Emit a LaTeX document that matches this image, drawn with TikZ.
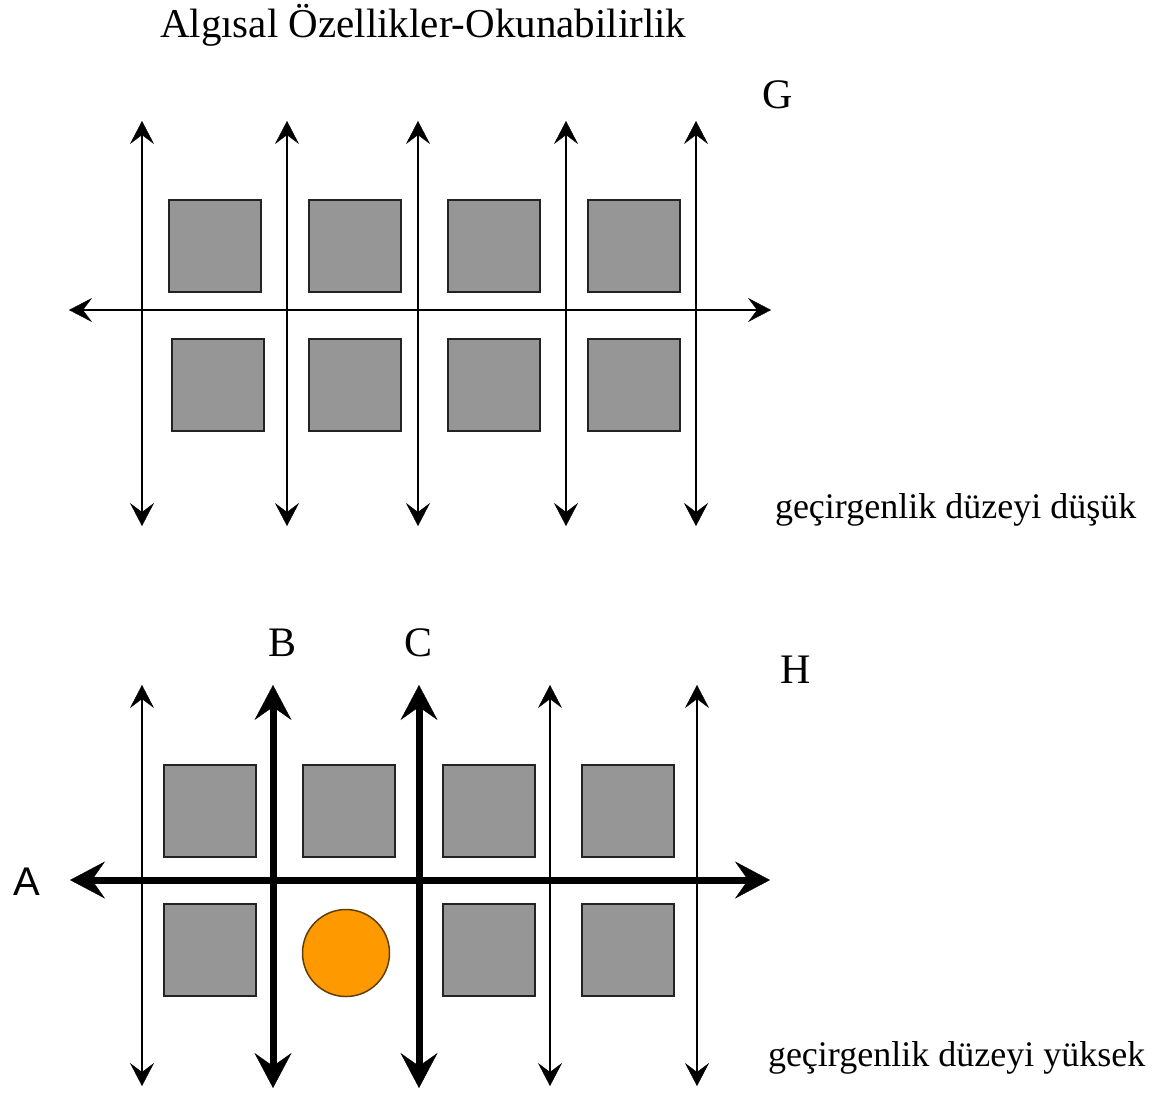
\documentclass[tikz,border=0pt]{standalone}
\usepackage{fontspec}
\setmainfont{Liberation Serif}
\newfontfamily\labelsans{Liberation Sans}
\usetikzlibrary{arrows.meta}

\definecolor{blockgray}{RGB}{150,150,150}
\definecolor{blockedge}{RGB}{35,35,35}
\definecolor{spot}{RGB}{255,153,0}
\definecolor{spotedge}{RGB}{95,62,10}

\tikzset{
  thintip/.tip={Stealth[length=23pt,width=24pt,inset=9pt,line width=0.4pt]},
  thicktip/.tip={Stealth[length=35pt,width=37pt,inset=13pt,line width=0.4pt]},
  thinroute/.style={line width=2pt, thintip-thintip},
  thinroutelow/.style={line width=1.6pt, thintip-thintip},
  thickroute/.style={line width=7pt, thicktip-thicktip},
  block/.style={draw=blockedge, fill=blockgray, line width=2pt,
    minimum width=92pt, minimum height=92pt, inner sep=0pt, outer sep=0pt},
  spotnode/.style={circle, draw=spotedge, fill=spot, line width=1.5pt,
    minimum size=87pt, inner sep=0pt},
  caption/.style={inner sep=0pt, outer sep=0pt, anchor=base},
  bigtxt/.style={font=\fontsize{42}{42}\selectfont},
  smalltxt/.style={font=\fontsize{36}{36}\selectfont},
}

\begin{document}
\begin{tikzpicture}[x=1pt,y=-1pt]
\useasboundingbox (0,0) rectangle (1161,1098);

% ---------- title ----------
\node[caption, anchor=base west, font=\fontsize{41}{41}\selectfont] (title) at (160,37) {Algısal Özellikler-Okunabilirlik};

% ---------- upper grid (G) ----------
\node[caption, bigtxt] (labelG) at (778,108) {G};

\foreach \i/\x in {1/142, 2/287, 3/418, 4/566, 5/696} {
  \coordinate (gt\i) at (\x,121);
  \coordinate (gb\i) at (\x,526);
  \draw[thinroute] (gt\i) -- (gb\i);
}
\coordinate (gl) at (69,310);
\coordinate (gr) at (771,310);
\draw[thinroute] (gl) -- (gr);

\foreach \i/\x in {1/215, 2/355, 3/494, 4/633.5}
  \node[block] (gu\i) at (\x,245.5) {};
\foreach \i/\x in {1/218, 2/355, 3/494, 4/633.5}
  \node[block] (gd\i) at (\x,384.5) {};

\node[caption, anchor=base west, smalltxt] (lowlevel) at (775,518) {geçirgenlik düzeyi düşük};

% ---------- lower grid (H) ----------
\node[caption, bigtxt] (labelH) at (796,683) {H};
\node[caption, bigtxt] (labelB) at (283,656) {B};
\node[caption, bigtxt] (labelC) at (419,656) {C};
\node[caption, font=\labelsans\fontsize{40}{40}\selectfont] (labelA) at (27,895) {A};

\foreach \i/\x in {1/142, 4/550, 5/697} {
  \coordinate (ht\i) at (\x,685);
  \coordinate (hb\i) at (\x,1086);
  \draw[thinroutelow] (ht\i) -- (hb\i);
}
\foreach \i/\x in {2/273, 3/419} {
  \coordinate (ht\i) at (\x,685);
  \coordinate (hb\i) at (\x,1088);
  \draw[thickroute] (ht\i) -- (hb\i);
}
\coordinate (hl) at (70,880);
\coordinate (hr) at (770,880);
\draw[thickroute] (hl) -- (hr);

\foreach \i/\x in {1/210, 2/349, 3/488.5, 4/628}
  \node[block] (hu\i) at (\x,810.5) {};
\foreach \i/\x in {1/209.5, 3/488.5, 4/628}
  \node[block] (hd\i) at (\x,949.5) {};
\node[spotnode] (reader) at (346,953) {};

\node[caption, anchor=base west, smalltxt] (highlevel) at (768,1066) {geçirgenlik düzeyi yüksek};

\end{tikzpicture}
\end{document}
